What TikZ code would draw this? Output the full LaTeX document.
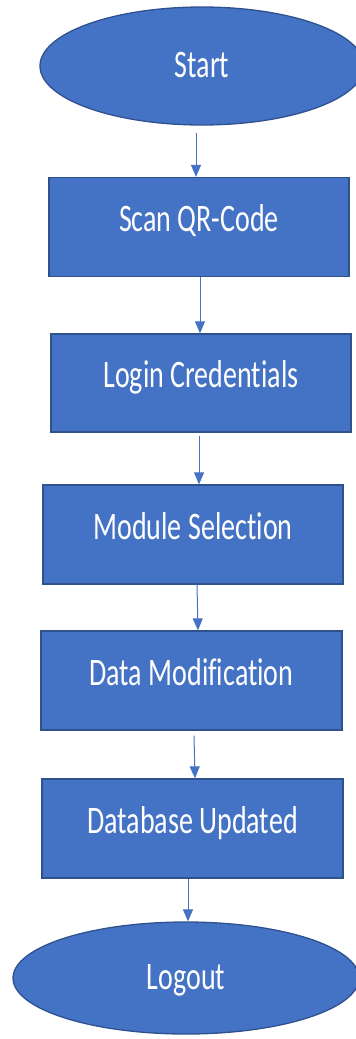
\documentclass[tikz,border=0pt]{standalone}
\usepackage{fontspec}
\setmainfont{Carlito}[Ligatures=NoCommon]
\usetikzlibrary{arrows.meta,shapes.geometric}
\definecolor{fillblue}{HTML}{4472C4}
\definecolor{edgeblue}{HTML}{2F528F}
\newcommand\talltext[1]{\scalebox{1}[1.39]{#1}}
\begin{document}
\begin{tikzpicture}[x=1pt,y=-1pt,
  shapebase/.style={fill=fillblue, draw=edgeblue, line width=1.3pt, text=white,
    font=\fontsize{28}{34}\selectfont, inner sep=0pt},
  stepbox/.style={shapebase, rectangle, minimum width=300pt, minimum height=99pt,
    text height=25pt, text depth=16pt},
  terminal/.style={shapebase, ellipse, text height=25pt, text depth=3pt},
  arr/.style={draw=fillblue, line width=1pt, -{Triangle[width=10pt,length=12pt]}}]
\useasboundingbox (0,0) rectangle (356,1039);
\clip (0,0) rectangle (356,1039);
\node[terminal, minimum width=324pt, minimum height=118pt] (start) at (202,66) {\talltext{Start}};
\node[stepbox] (scan) at (199,227) {\talltext{Scan QR-Code}};
\node[stepbox, minimum height=98pt] (login) at (201,383) {\talltext{Login Credentials}};
\node[stepbox] (module) at (193,534.5) {\talltext{Module Selection}};
\node[stepbox, minimum width=301pt] (data) at (191.5,680.5) {\talltext{Data Modification}};
\node[stepbox, minimum width=301pt] (dbase) at (192.5,828.5) {\talltext{Database Updated}};
\node[terminal, minimum width=346pt, minimum height=112pt] (logout) at (186,978) {\talltext{Logout}};
\draw[arr] ([xshift=-6pt,yshift=-7pt]start.south) -- ([xshift=-3pt]scan.north);
\draw[arr] ([xshift=1pt]scan.south) -- ([xshift=-1pt]login.north);
\draw[arr] ([xshift=-2pt,yshift=-3pt]login.south) -- ([xshift=6pt]module.north);
\draw[arr] ([xshift=4pt]module.south) -- ([xshift=6.5pt]data.north);
\draw[arr] ([xshift=2.5pt,yshift=-5pt]data.south) -- ([xshift=2.5pt]dbase.north);
\draw[arr] ([xshift=-4.5pt]dbase.south) -- ([xshift=2pt]logout.north);
\end{tikzpicture}
\end{document}
